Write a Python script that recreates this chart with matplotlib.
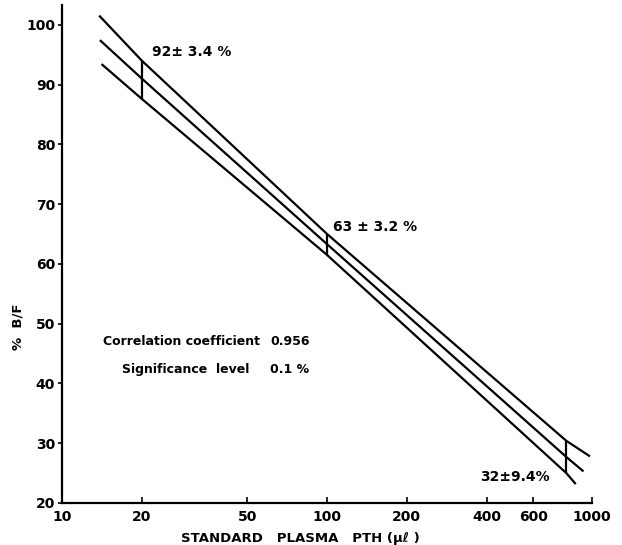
import numpy as np
import matplotlib.pyplot as plt

# regression line and confidence limits
x_upper = [13.9, 20, 100, 800, 975]
y_upper = [101.4, 94.0, 65.0, 30.4, 27.9]
x_mid = [14.0, 20, 100, 800, 922]
y_mid = [97.3, 91.0, 63.3, 27.7, 25.4]
x_lower = [14.2, 20, 100, 800, 863]
y_lower = [93.3, 87.6, 61.5, 25.0, 23.3]

# vertical bars at the three marked doses
bar_x = [20, 100, 800]
bar_lo = [87.6, 61.5, 25.0]
bar_hi = [94.0, 65.0, 30.4]
bar_text = ['92\u00b1 3.4 %', '63 \u00b1 3.2 %', '32\u00b19.4%']

x_ticks = [10, 20, 50, 100, 200, 400, 600, 1000]
y_ticks = [20, 30, 40, 50, 60, 70, 80, 90, 100]

plt.rcParams['font.family'] = 'DejaVu Sans'
plt.rcParams['font.weight'] = 'bold'

fig = plt.figure(figsize=(6.22, 5.45), dpi=100)
ax = fig.add_axes([62 / 622, 42 / 545, 530 / 622, 498 / 545])

for xs, ys in [(x_upper, y_upper), (x_mid, y_mid), (x_lower, y_lower)]:
    ax.plot(xs, ys, color='black', lw=1.6)
ax.vlines(bar_x, bar_lo, bar_hi, color='black', lw=1.6)

# labels of the bars
ax.text(21.9, 95.5, bar_text[0], fontsize=10, fontweight='bold', va='center', ha='left')
ax.text(105, 66.1, bar_text[1], fontsize=10, fontweight='bold', va='center', ha='left')
ax.text(690, 24.4, bar_text[2], fontsize=10, fontweight='bold', va='center', ha='right')

ax.text(14.3, 47.0, 'Correlation coefficient', fontsize=9, va='center', ha='left')
ax.text(61, 47.0, '0.956', fontsize=9, va='center', ha='left')
ax.text(16.8, 42.4, 'Significance  level', fontsize=9, va='center', ha='left')
ax.text(61, 42.4, '0.1 %', fontsize=9, va='center', ha='left')

ax.set_xscale('log')
ax.set_xlim(10, 1000)
ax.set_ylim(20, 103.3)
ax.set_xticks(x_ticks)
ax.set_xticklabels([str(t) for t in x_ticks])
ax.minorticks_off()
ax.set_yticks(y_ticks)
ax.tick_params(axis='x', direction='in', length=4, width=1.2, labelsize=10, pad=5)
ax.tick_params(axis='y', direction='out', length=3, width=1.2, labelsize=10, pad=2)

ax.spines['top'].set_visible(False)
ax.spines['right'].set_visible(False)
ax.spines['left'].set_linewidth(1.6)
ax.spines['bottom'].set_linewidth(1.6)

ax.set_xlabel('STANDARD   PLASMA   PTH (\u03bc\u2113 )', fontsize=9.5, fontweight='bold')
ax.xaxis.set_label_coords(0.449, -0.058)
ax.set_ylabel('%  B/F', fontsize=9.5, fontweight='bold')
ax.yaxis.set_label_coords(-0.07, 0.353)

fig.savefig('out.png', dpi=100)
